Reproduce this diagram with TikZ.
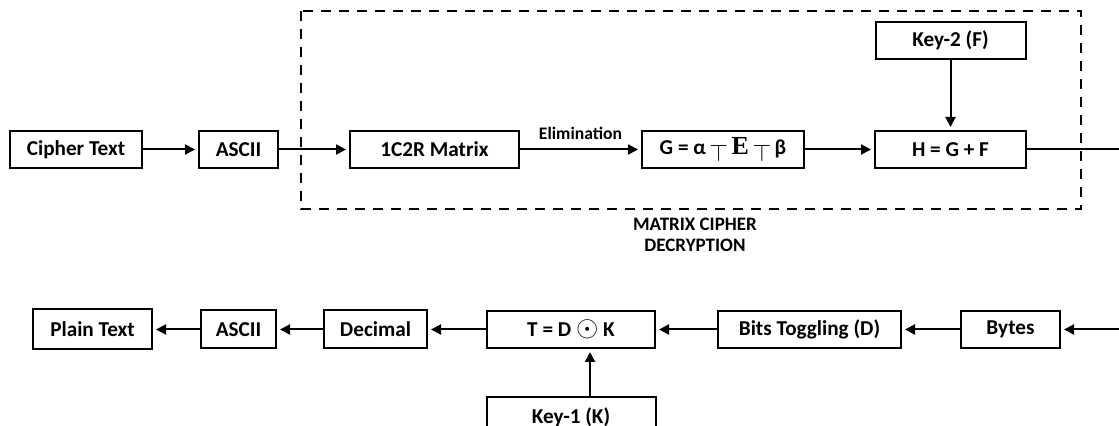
\documentclass[tikz,border=0pt]{standalone}
\usepackage{fontspec}
\setmainfont{Carlito}
\newfontfamily\serifE{Liberation Serif}
\usetikzlibrary{positioning,arrows.meta}

\begin{document}
\begin{tikzpicture}[
            x=0.5pt, y=-0.5pt,
            b/.style={draw,line width=1pt,rectangle,inner sep=0pt,minimum height=18.5pt,font=\fontsize{10.6}{12}\selectfont\bfseries},
            arr/.style={line width=1pt,-{Triangle[length=5pt,width=5pt]},shorten >=1.5pt},
            ln/.style={line width=1pt},
            dbox/.style={line width=1pt,dash pattern=on 5pt off 4pt},
            lbl/.style={font=\fontsize{9.5}{10.5}\selectfont\bfseries,align=center},
        ]

        \clip (0,0) rectangle (1119,426);

        % decryption, top row
        \node[b,minimum width=66pt] (cipher) at (76,149.5) {Cipher Text};
        \node[b,minimum width=39.5pt,right=27.5pt of cipher] (ascii1) {ASCII};
        \node[b,minimum width=84.5pt,right=35pt of ascii1] (matrix) {1C2R Matrix};
        \node[b,minimum width=81pt,right=60.5pt of matrix] (gform) {G = α\,\raisebox{-0.3em}{\large$\top$}\,{\serifE\fontsize{13}{13}\selectfont E}\,\raisebox{-0.3em}{\large$\top$}\,β};
        \node[b,minimum width=75.5pt,right=34.5pt of gform] (hform) {H = G + F};
        \node[b,minimum width=75pt,above=35pt of hform] (key2) {Key-2 (F)};
        \coordinate (out) at (1119,149.5);

        \draw[dbox] (301,11) rectangle (1081,209);
        \node[lbl] (mcd) at (695,235) {MATRIX CIPHER\\DECRYPTION};

        % bottom row
        \node[b,minimum width=59.5pt,minimum height=20pt] (plain) at (92.5,329.5) {Plain Text};
        \node[b,minimum width=37.5pt,minimum height=19pt,right=23.5pt of plain] (ascii2) {ASCII};
        \node[b,minimum width=51.5pt,minimum height=19pt,right=23pt of ascii2] (decimal) {Decimal};
        \node[b,minimum width=84pt,right=29pt of decimal] (tdk) {T = D {\Large$\odot$} K};
        \node[b,minimum width=91.5pt,right=30.5pt of tdk] (bits) {Bits Toggling (D)};
        \node[b,minimum width=49.5pt,right=29pt of bits] (bytes) {Bytes};
        \node[b,minimum width=84.5pt,minimum height=20pt,below=23.5pt of tdk] (key1) {Key-1 (K)};
        \coordinate (in) at (1119,329.5);

        \draw[arr] (cipher) -- (ascii1);
        \draw[arr] (ascii1) -- (matrix);
        \draw[arr] (matrix) -- node[above=1pt,font=\fontsize{8.8}{10}\selectfont\bfseries] {Elimination} (gform);
        \draw[arr] (gform) -- (hform);
        \draw[arr] (key2) -- (hform);
        \draw[ln] (hform) -- (out);

        \draw[arr] (in) -- (bytes);
        \draw[arr] (bytes) -- (bits);
        \draw[arr] (bits) -- (tdk);
        \draw[arr] (tdk) -- (decimal);
        \draw[arr] (decimal) -- (ascii2);
        \draw[arr] (ascii2) -- (plain);
        \draw[arr] ([xshift=9.5pt]key1.north) -- ([xshift=9.5pt]tdk.south);

\end{tikzpicture}
\end{document}
